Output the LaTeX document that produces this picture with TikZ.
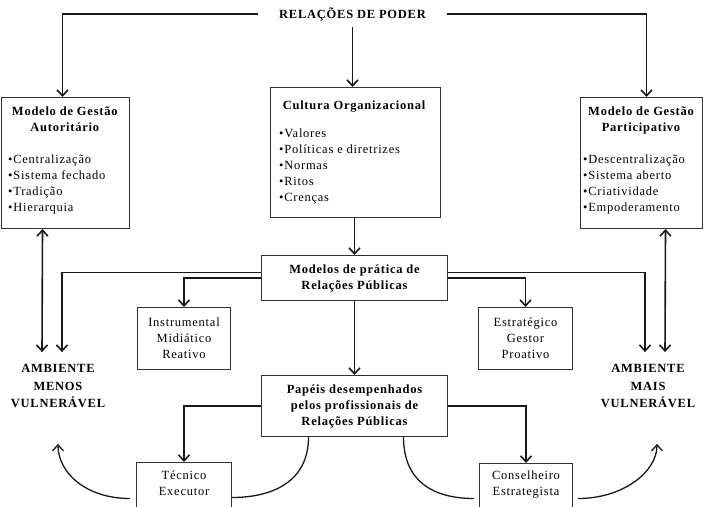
\documentclass[tikz,border=0pt]{standalone}
\usepackage{fontspec}
\setmainfont{Liberation Serif}[LetterSpace=6]
\usetikzlibrary{arrows.meta,calc}
\begin{document}
\begin{tikzpicture}[x=1pt,y=-1pt,
  font=\fontsize{12.5}{16}\selectfont,
  tip/.tip={Straight Barb[length=6pt,width=11pt]},
  box/.style={draw=black!80, line width=1pt, inner sep=0pt, anchor=north west, align=center},
  arr/.style={draw=black!90, line width=1.6pt, -tip},
  dbl/.style={draw=black!90, line width=1.6pt, tip-tip},
  crv/.style={draw=black!90, line width=1.3pt},
  bold/.style={font=\fontsize{12.5}{16}\selectfont\bfseries},
  ttl/.style={bold, align=center, inner sep=0pt, anchor=north},
  txt/.style={align=left, inner sep=0pt, anchor=north west},
  amb/.style={font=\fontsize{12.5}{17.5}\selectfont\bfseries, align=center, inner sep=0pt},
]
\useasboundingbox (0,0) rectangle (703,506);
\clip (0,0) rectangle (703,506);

% top label
\node[bold, inner xsep=21pt, inner ysep=6pt] (rp) at (352.5,14) {RELAÇÕES DE PODER};

% big boxes
\node[box, minimum width=128.5pt, minimum height=131pt] (auto) at (0.5,97) {};
\node[ttl] at (64.75,106.5) {Modelo de Gestão\\Autoritário};
\node[txt] at (8,155) {•Centralização\\•Sistema fechado\\•Tradição\\•Hierarquia};

\node[box, minimum width=170pt, minimum height=130pt] (cult) at (270,87) {};
\node[ttl] at (354,100.5) {Cultura Organizacional};
\node[txt] at (279,129) {•Valores\\•Políticas e diretrizes\\•Normas\\•Ritos\\•Crenças};

\node[box, minimum width=122pt, minimum height=131pt] (part) at (580,97) {};
\node[ttl] at (641,106.5) {Modelo de Gestão\\Participativo};
\node[txt] at (583,155) {•Descentralização\\•Sistema aberto\\•Criatividade\\•Empoderamento};

% middle boxes
\node[box, bold, minimum width=186pt, minimum height=45pt] (mod) at (261,255) {Modelos de prática de\\Relações Públicas};
\node[box, bold, minimum width=186pt, minimum height=61pt] (pap) at (261,375) {Papéis desempenhados\\pelos profissionais de\\Relações Públicas};
\node[box, minimum width=93pt, minimum height=62pt] (inst) at (137,307) {Instrumental\\Midiático\\Reativo};
\node[box, minimum width=94pt, minimum height=62pt] (estr) at (478,307) {Estratégico\\Gestor\\Proativo};

\node[box, minimum width=95pt, minimum height=60pt] (tec) at (136,462) {};
\node[align=center, inner sep=0pt] at ($(tec.north)+(0,21.5)$) {Técnico\\Executor};
\node[box, minimum width=93pt, minimum height=60pt] (cons) at (479,463) {};
\node[align=center, inner sep=0pt] at ($(cons.north)+(0,21.5)$) {Conselheiro\\Estrategista};

% environments
\node[amb] (amenos) at (58,386) {AMBIENTE\\MENOS\\VULNERÁVEL};
\node[amb] (amais) at (648,386) {AMBIENTE\\MAIS\\VULNERÁVEL};

% connectors
\draw[arr] (rp.west) -| ($(auto.north)+(-2.75,0)$);
\draw[arr] (rp.east) -| ($(part.north)+(5,0)$);
\draw[arr] (rp.south) -- (rp.south |- cult.north);
\draw[arr] (cult.south -| mod.north) -- (mod.north);
\draw[arr] (mod.south) -- (pap.north);

\draw[arr] ($(mod.west)+(0,-5.5)$) -| ($(amenos.north)+(4,-12)$);
\draw[arr] (mod.west) -| (inst.north);
\draw[arr] ($(mod.east)+(0,-5.5)$) -| ($(amais.north)+(-3,-12)$);
\draw[arr] (mod.east) -| (estr.north);

\draw[dbl] ($(auto.south)+(-22.75,0)$) -- ($(amenos.north)+(-16,-12)$);
\draw[dbl] ($(part.south)+(24,0)$) -- ($(amais.north)+(17,-12)$);

\draw[arr] (pap.west) -| (tec.north);
\draw[arr] (pap.east) -| (cons.north);

% curves
\draw[crv] ($(pap.south)+(-46,0)$) .. controls +(0,45) and +(40,0) .. ($(tec.east)+(0,5)$);
\draw[crv, -tip] ($(tec.west)+(-6,6)$) .. controls +(-45,0) and +(0,28) .. ($(amenos.south)+(0,36)$);
\draw[crv] ($(pap.south)+(49,0)$) .. controls +(0,45) and +(-40,0) .. ($(cons.west)+(-5,5)$);
\draw[crv, -tip] ($(cons.east)+(5,5)$) .. controls +(45,0) and +(0,28) .. ($(amais.south)+(9,36)$);
\end{tikzpicture}
\end{document}
